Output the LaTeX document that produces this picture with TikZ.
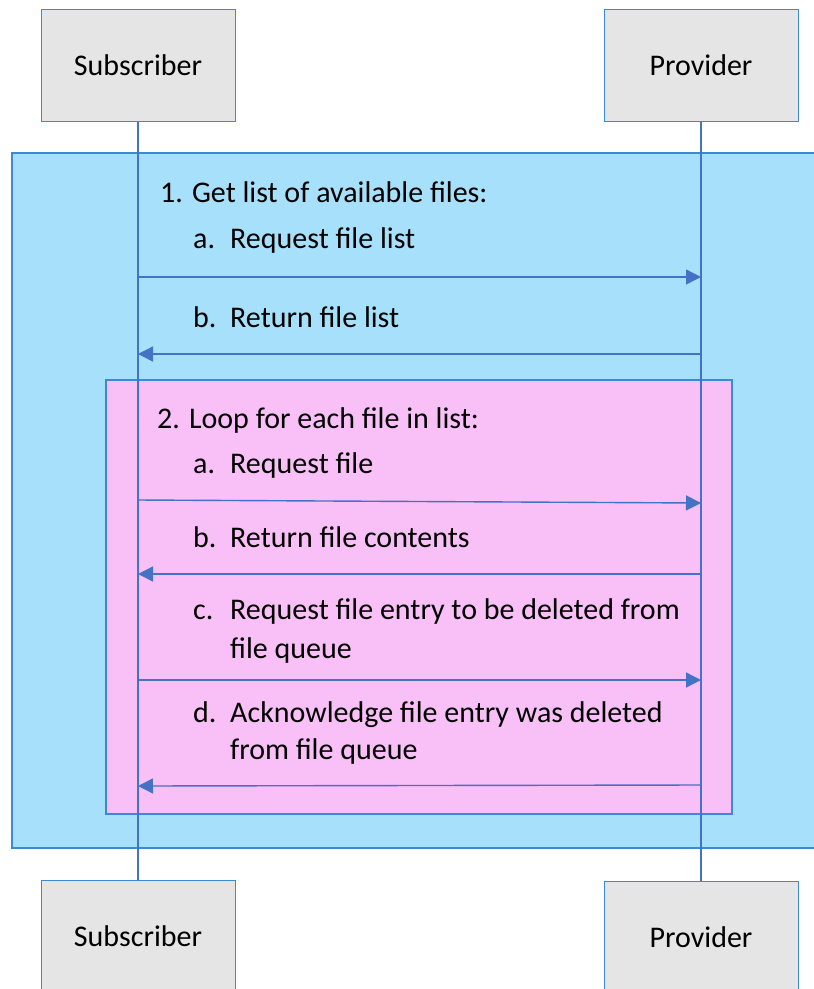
\documentclass[tikz,border=0pt]{standalone}
\usepackage{fontspec}
\setmainfont{Carlito}
\usetikzlibrary{arrows.meta}
\definecolor{bluefill}{HTML}{A6E0FA}
\definecolor{pinkfill}{HTML}{F9BFF7}
\definecolor{boxgray}{HTML}{E5E5E5}
\definecolor{edgeblue}{HTML}{3C8AD6}
\definecolor{lineblue}{HTML}{4472C4}
\tikzset{
  actor/.style={draw=edgeblue, line width=1pt, fill=boxgray, minimum width=194pt, minimum height=112pt, inner sep=0pt, font=\fontsize{30}{36}\selectfont},
  lbl/.style={anchor=base west, inner sep=0pt, font=\fontsize{30}{36}\selectfont, text=black},
  lifeline/.style={draw=lineblue, line width=1.2pt},
  msg/.style={draw=lineblue, line width=1.4pt, -{Triangle[length=15pt,width=15pt]}},
  frameblue/.style={draw=edgeblue, line width=1.2pt, fill=bluefill},
  framepink/.style={draw=edgeblue, line width=1.2pt, fill=pinkfill}
}
\begin{document}
\begin{tikzpicture}[x=1pt,y=-1pt]
\useasboundingbox (0,0) rectangle (814,989);
\clip (0,0) rectangle (814,989);
% frames
\path[frameblue] (12,153) rectangle (840,848);
\path[framepink] (106,380) rectangle (732,814);
% actors
\node[actor] (subTop) at (138,65) {Subscriber};
\node[actor] (provTop) at (701,65) {Provider};
\node[actor] (subBot) at (138,936) {Subscriber};
\node[actor] (provBot) at (701,937) {Provider};
% lifelines
\draw[lifeline] (subTop.south) -- (subBot.north);
\draw[lifeline] (provTop.south) -- (provBot.north);
% message anchor points
\coordinate (s1) at (138,277); \coordinate (p1) at (701,277);
\coordinate (s2) at (138,354); \coordinate (p2) at (701,354);
\coordinate (s3) at (138,500); \coordinate (p3) at (701,503);
\coordinate (s4) at (138,574); \coordinate (p4) at (701,574);
\coordinate (s5) at (138,680); \coordinate (p5) at (701,680);
\coordinate (s6) at (138,786); \coordinate (p6) at (701,785);
\draw[msg] (s1) -- (p1);
\draw[msg] (p2) -- (s2);
\draw[msg] (s3) -- (p3);
\draw[msg] (p4) -- (s4);
\draw[msg] (s5) -- (p5);
\draw[msg] (p6) -- (s6);
% labels
\node[lbl] (t1) at (160,202) {1. Get list of available files:};
\node[lbl] (t1a) at (193,248) {a.};
\node[lbl] (t1at) at (230,248) {Request file list};
\node[lbl] (t1b) at (193,327) {b.};
\node[lbl] (t1bt) at (230,327) {Return file list};
\node[lbl] (t2) at (157,428) {2. Loop for each file in list:};
\node[lbl] (t2a) at (193,473) {a.};
\node[lbl] (t2at) at (230,473) {Request file};
\node[lbl] (t2b) at (193,547) {b.};
\node[lbl] (t2bt) at (230,547) {Return file contents};
\node[lbl] (t2c) at (193,619) {c.};
\node[lbl] (t2ct) at (230,619) {Request file entry to be deleted from};
\node[lbl] (t2ct2) at (230,658) {file queue};
\node[lbl] (t2d) at (193,722) {d.};
\node[lbl] (t2dt) at (230,722) {Acknowledge file entry was deleted};
\node[lbl] (t2dt2) at (230,759) {from file queue};
\end{tikzpicture}
\end{document}
